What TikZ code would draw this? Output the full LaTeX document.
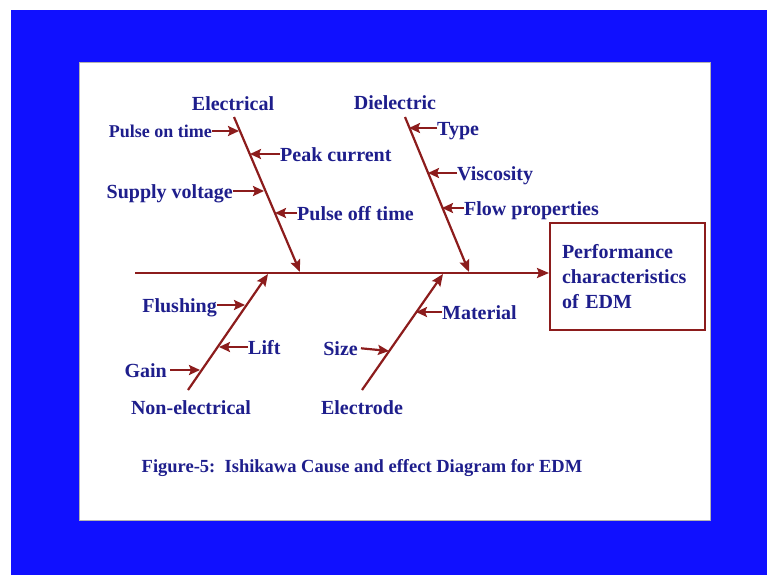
\documentclass[tikz,border=0pt]{standalone}
\usepackage{fontspec}
\setmainfont{Liberation Serif}
\usetikzlibrary{arrows.meta}
\definecolor{bgblue}{RGB}{16,16,255}
\definecolor{txtblue}{RGB}{30,30,140}
\definecolor{bonered}{RGB}{140,28,28}
\begin{document}
\begin{tikzpicture}[x=1pt,y=-1pt,
  lbl/.style={font=\fontsize{20}{25}\selectfont\bfseries, text=txtblue, inner sep=0pt},
  bone/.style={draw=bonered, line width=2.2pt, -{Stealth[length=12pt,width=10pt,inset=2pt]}},
  sub/.style={draw=bonered, line width=2.2pt, -{Stealth[length=11pt,width=10pt,inset=2pt]}},
]
\useasboundingbox (0,0) rectangle (767,575);
\fill[white] (0,0) rectangle (767,575);
\fill[bgblue] (11,10) rectangle (767,575);
\fill[white] (79,62) rectangle (710,520);
\draw[gray!60, line width=0.6pt] (79,62) rectangle (710,520);

% effect box
\node[lbl, draw=bonered, line width=2pt, minimum width=155pt, minimum height=107pt,
      text width=131pt, align=left, inner xsep=12pt] (box) at (627.5,276.5)
      {Performance\\characteristics\\of EDM};

% spine
\coordinate (s0) at (135,273);
\draw[bone] (s0) -- (s0 -| box.west);

% Electrical
\node[lbl] (elec) at (233,104) {Electrical};
\coordinate (e1) at (234,117);
\coordinate (e2) at (300,272);
\draw[bone] (e1) -- (e2);
\node[lbl, font=\fontsize{18}{22}\selectfont\bfseries, anchor=mid east] (pot) at (212,135) {Pulse on time};
\coordinate (tpot) at (239,131);
\draw[sub] ([yshift=4pt]pot.mid east) -- (tpot);
\node[lbl, anchor=mid west] (pc) at (280,159) {Peak current};
\coordinate (tpc) at (250,154);
\draw[sub] ([yshift=5pt]pc.mid west) -- (tpc);
\node[lbl, anchor=mid east] (sv) at (233,196) {Supply voltage};
\coordinate (tsv) at (264,191);
\draw[sub] ([yshift=5pt]sv.mid east) -- (tsv);
\node[lbl, anchor=mid west] (poft) at (297,218) {Pulse off time};
\coordinate (tpoft) at (275,213);
\draw[sub] ([yshift=5pt]poft.mid west) -- (tpoft);

% Dielectric
\node[lbl] (diel) at (395,103) {Dielectric};
\coordinate (d1) at (405,117);
\coordinate (d2) at (469,272);
\draw[bone] (d1) -- (d2);
\node[lbl, anchor=mid west] (type) at (437,133) {Type};
\coordinate (ttype) at (409,128);
\draw[sub] ([yshift=5pt]type.mid west) -- (ttype);
\node[lbl, anchor=mid west] (visc) at (457,178) {Viscosity};
\coordinate (tvisc) at (428,173);
\draw[sub] ([yshift=5pt]visc.mid west) -- (tvisc);
\node[lbl, anchor=mid west] (flow) at (464,213) {Flow properties};
\coordinate (tflow) at (442,208);
\draw[sub] ([yshift=5pt]flow.mid west) -- (tflow);

% Non-electrical
\node[lbl] (nonel) at (191,408) {Non-electrical};
\coordinate (n1) at (188,390);
\coordinate (n2) at (268,274);
\draw[bone] (n1) -- (n2);
\node[lbl, anchor=mid east] (flush) at (217,310) {Flushing};
\coordinate (tflush) at (245,305);
\draw[sub] ([yshift=5pt]flush.mid east) -- (tflush);
\node[lbl, anchor=mid west] (lift) at (248,352) {Lift};
\coordinate (tlift) at (219,347);
\draw[sub] ([yshift=5pt]lift.mid west) -- (tlift);
\node[lbl, anchor=mid east] (gain) at (167,375) {Gain};
\coordinate (tgain) at (200,370);
\draw[sub, shorten <=3pt] ([yshift=5pt]gain.mid east) -- (tgain);

% Electrode
\node[lbl] (elde) at (362,408) {Electrode};
\coordinate (l1) at (362,390);
\coordinate (l2) at (443,274);
\draw[bone] (l1) -- (l2);
\node[lbl, anchor=mid west] (mat) at (442,317) {Material};
\coordinate (tmat) at (416,312);
\draw[sub] ([yshift=5pt]mat.mid west) -- (tmat);
\node[lbl, anchor=mid east] (size) at (358,353) {Size};
\coordinate (tsize) at (389,351);
\draw[sub, shorten <=3pt] ([yshift=5pt]size.mid east) -- (tsize);

% caption
\node[lbl, font=\fontsize{18.5}{22}\selectfont\bfseries] (cap) at (362,468)
  {Figure-5:\ \ Ishikawa Cause and effect Diagram for EDM};
\end{tikzpicture}
\end{document}
